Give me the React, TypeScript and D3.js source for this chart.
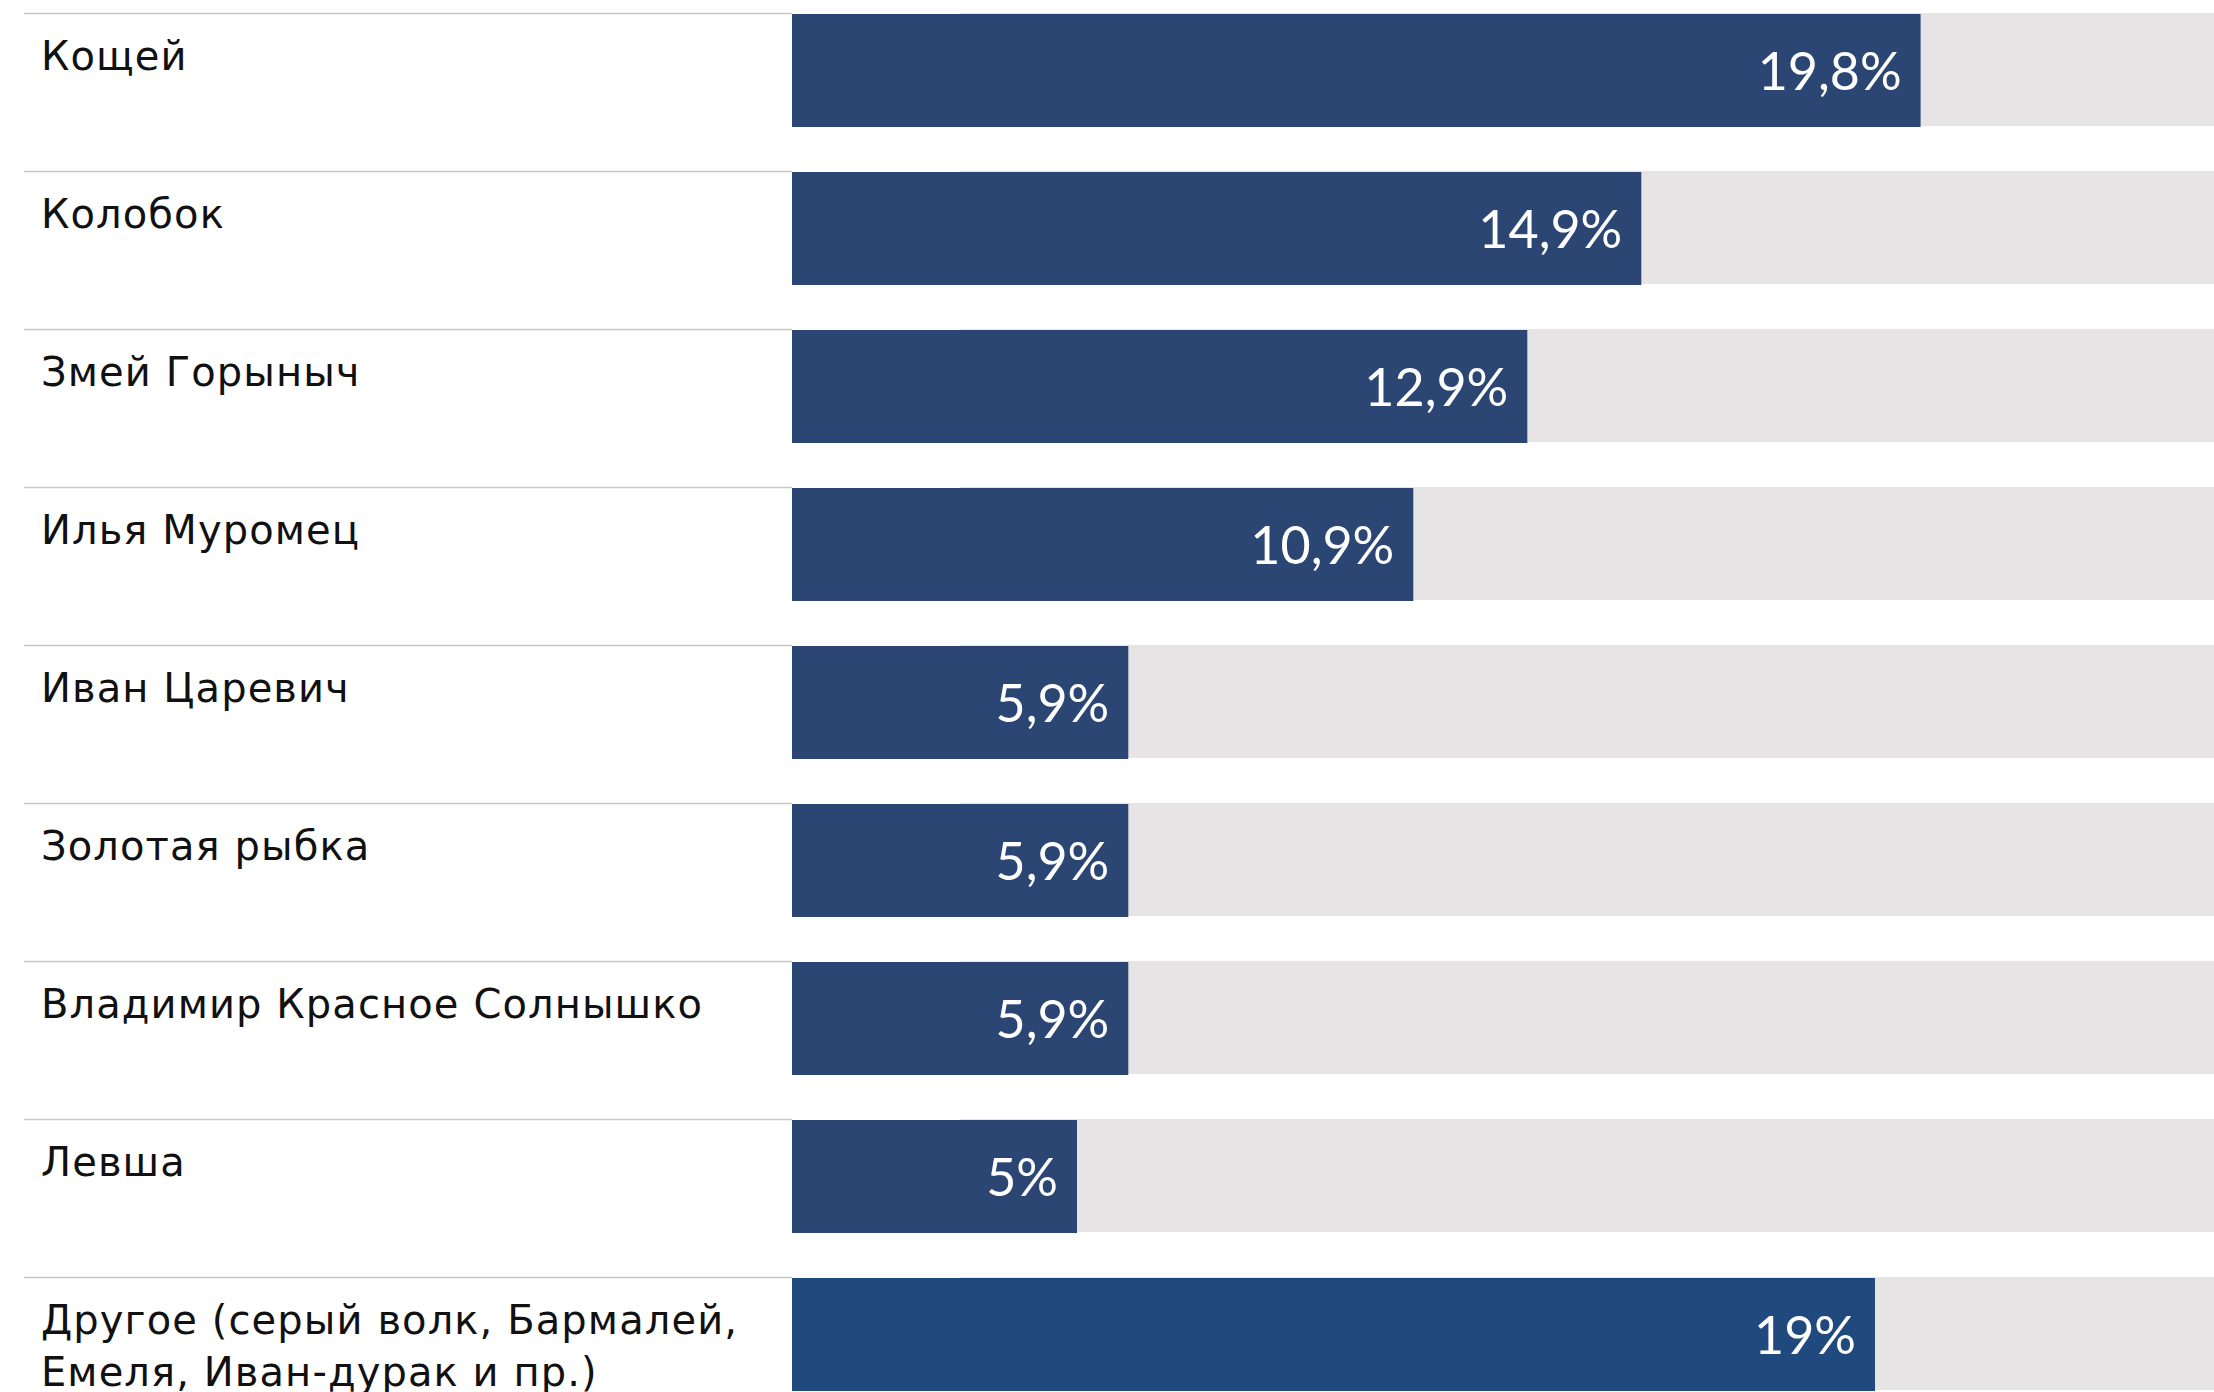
import React from "react";
import * as d3 from "d3";

const categories = [
  "Кощей",
  "Колобок",
  "Змей Горыныч",
  "Илья Муромец",
  "Иван Царевич",
  "Золотая рыбка",
  "Владимир Красное Солнышко",
  "Левша",
  "Другое (серый волк, Бармалей,|Емеля, Иван-дурак и пр.)",
];
const values = [19.8, 14.9, 12.9, 10.9, 5.9, 5.9, 5.9, 5, 19];
const valueLabels = ["19,8%", "14,9%", "12,9%", "10,9%", "5,9%", "5,9%", "5,9%", "5%", "19%"];
const barColors = ["#2c4674", "#2c4674", "#2c4674", "#2c4674", "#2c4674", "#2c4674", "#2c4674", "#2c4674", "#204a7d"];

const W = 2214;
const H = 1392;

export default function App() {
  const x = d3.scaleLinear().domain([0, 25]).range([792, 2217]);
  const y = d3
    .scaleBand<string>()
    .domain(categories)
    .range([13, 13 + 158 * categories.length])
    .paddingInner(0)
    .paddingOuter(0);
  const barH = 113;

  return (
    <svg
      width={W}
      height={H}
      style={{ position: "absolute", left: 0, top: 0, background: "#fff" }}
    >
      {categories.map((c, i) => {
        const y0 = y(c) as number;
        const lines = c.split("|");
        return (
          <g key={c}>
            <rect x={960} y={y0} width={W - 960} height={barH} fill="#e6e4e5" />
            <line x1={24} x2={792} y1={y0 + 0.5} y2={y0 + 0.5} stroke="#c9c6c3" strokeWidth={1.5} />
            <rect
              x={x(0)}
              y={y0 + 1}
              width={x(values[i]) - x(0)}
              height={barH}
              fill={barColors[i]}
            />
            <text
              x={x(values[i]) - 19}
              y={y0 + 77}
              textAnchor="end"
              fill="#ffffff"
              fontFamily="Lato, 'Open Sans', sans-serif"
              fontWeight={400}
              fontSize={52}
            >
              {valueLabels[i]}
            </text>
            {lines.map((ln, k) => (
              <text
                key={k}
                x={41}
                y={y0 + 57 + k * 52}
                fill="#111111"
                fontFamily="'DejaVu Sans', sans-serif"
                fontSize={40}
                letterSpacing={1.1}
              >
                {ln}
              </text>
            ))}
          </g>
        );
      })}
    </svg>
  );
}
